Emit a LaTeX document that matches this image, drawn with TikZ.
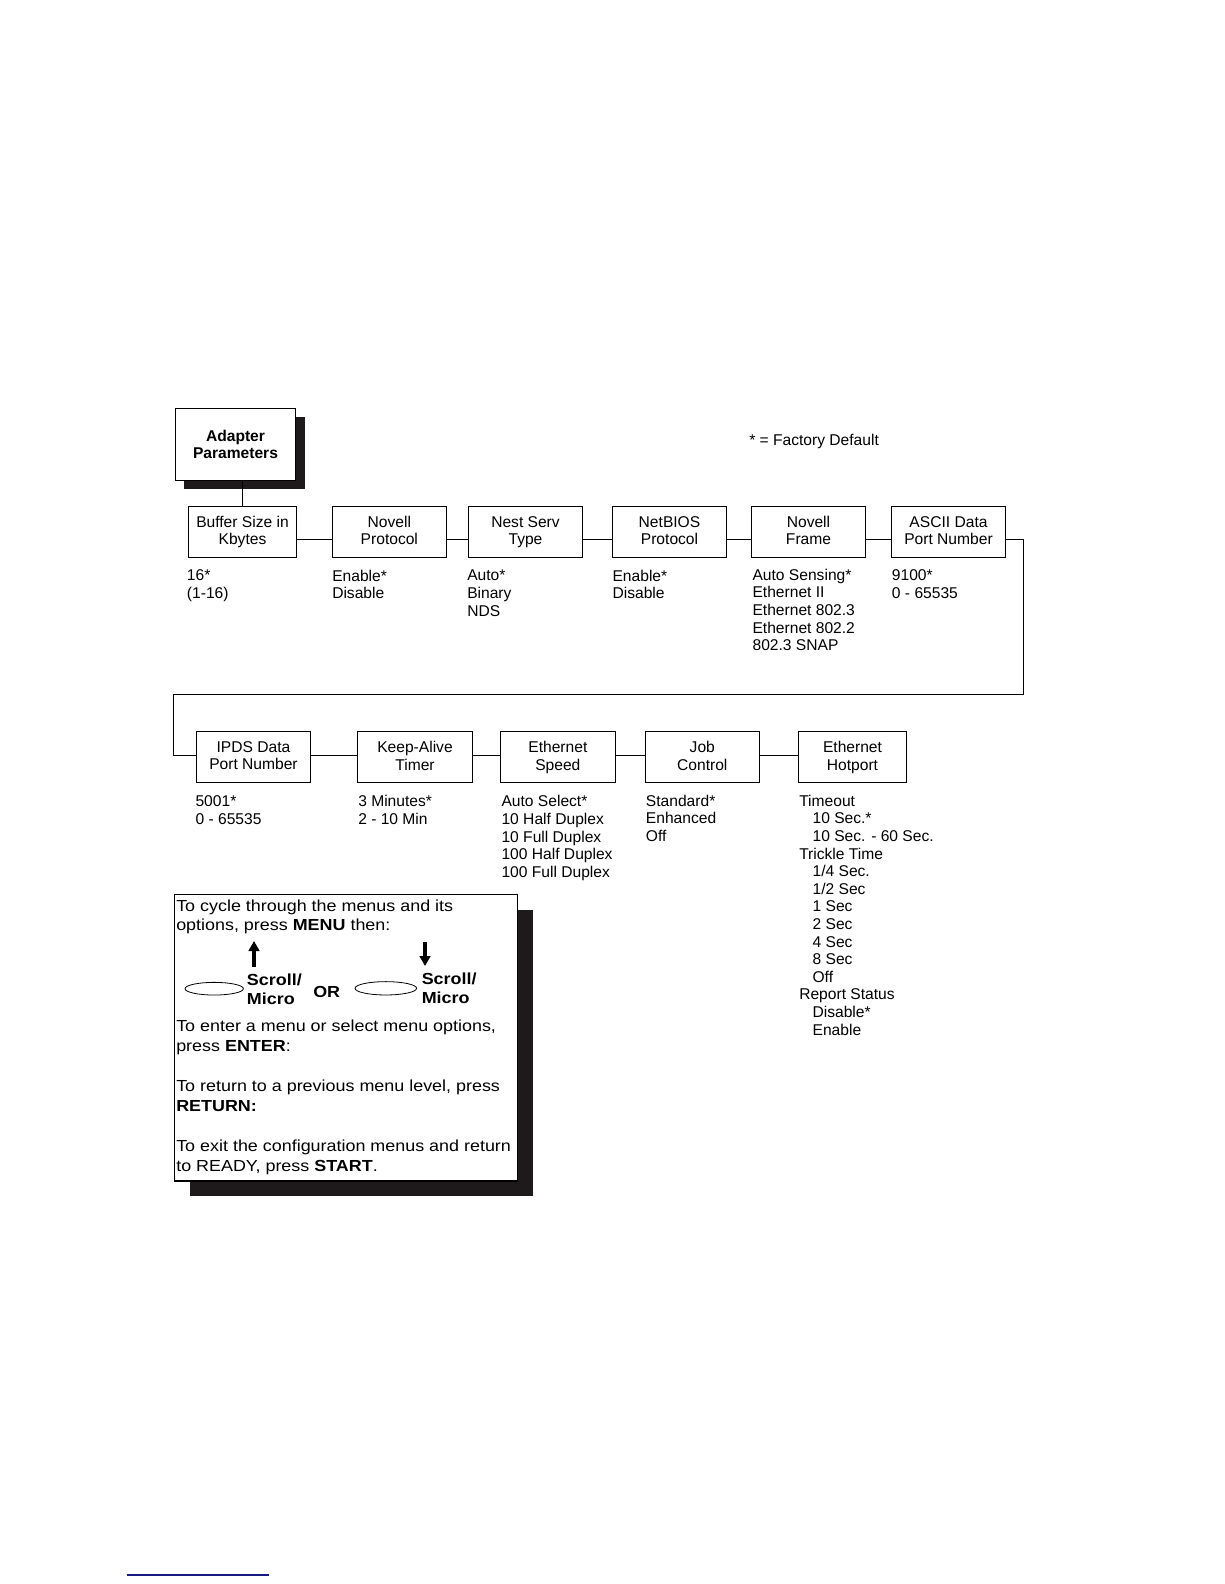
\documentclass[tikz,border=0pt]{standalone}
\usepackage{fontspec}
\setmainfont{Liberation Sans}
\newfontfamily\infofont[FakeStretch=1.12]{Liberation Sans}
\usetikzlibrary{shadows,shapes.geometric,arrows.meta,calc}
\definecolor{shadowc}{RGB}{30,26,28}
\definecolor{navyline}{RGB}{25,25,130}
\newcommand\optfont{\fontsize{11.7}{13.2}\selectfont}
\newcommand\boxfont{\fontsize{11.7}{13.05}\selectfont}
\newcommand\infotext{\infofont\fontsize{12}{15}\selectfont}
\newcommand\infotextA{\infofont\fontsize{12}{14}\selectfont}
\newcommand\infobold{\infofont\bfseries\fontsize{12}{14.5}\selectfont}
\newcommand\lbl[2]{#1\\#2\vphantom{y}}
\begin{document}
\begin{tikzpicture}[x=0.75pt,y=-0.75pt,
  box/.style={draw, line width=0.8pt, fill=white, inner sep=0pt, align=center,
    font=\boxfont, minimum height=38.4pt, minimum width=85.8pt},
  narrow/.style={minimum width=81.3pt},
  opt/.style={anchor=north west, inner sep=0pt, align=left, font=\optfont},
  conn/.style={line width=0.8pt},
  info/.style={anchor=north west, inner sep=0pt, align=left, font=\infotext},
  bigarrow/.style={line width=2.3pt, -{Triangle[width=8pt,length=7.5pt]}},
  oval/.style={ellipse, draw, line width=0.6pt, inner sep=0pt}]
\useasboundingbox (0,0) rectangle (1224,1584);
\fill[white] (0,0) rectangle (1224,1584);

% title box
\node[box, font=\boxfont\bfseries, minimum width=90.3pt, minimum height=54pt,
  general shadow={fill=shadowc, shadow xshift=6.75pt, shadow yshift=-6.75pt}]
  (ad) at (235.5,444.3) {Adapter\\Parameters};
\node[anchor=base west, inner sep=0pt, font=\optfont] (fd) at (749,445.7) {* = Factory Default};

% row 1
\node[box, narrow] (buf) at (242.5,531.9) {\lbl{Buffer Size in}{Kbytes}};
\node[box] (nov) at (389.35,531.9) {\lbl{Novell}{Protocol}};
\node[box] (nest) at (525.5,531.9) {\lbl{Nest Serv}{Type}};
\node[box] (netb) at (669.5,531.9) {\lbl{NetBIOS}{Protocol}};
\node[box] (frame) at (808.5,531.9) {\lbl{Novell}{Frame}};
\node[box] (ascii) at (948.5,531.9) {\lbl{ASCII Data}{Port Number}};

% row 2
\node[box] (ipds) at (253.5,757.3) {\lbl{IPDS Data}{Port Number}};
\node[box] (keep) at (415,757.3) {\lbl{Keep-Alive}{Timer}};
\node[box] (speed) at (557.85,757.3) {\lbl{Ethernet}{Speed}};
\node[box] (job) at (702.3,757.3) {\lbl{Job}{Control}};
\node[box, narrow] (hot) at (852.5,757.3) {\lbl{Ethernet}{Hotport}};

% connectors
\draw[conn] (buf.north) -- (buf.north |- ad.south);
\draw[conn] ([yshift=-5.7pt]buf.east) -- ([yshift=-5.7pt]nov.west);
\draw[conn] ([yshift=-5.7pt]nov.east) -- ([yshift=-5.7pt]nest.west);
\draw[conn] ([yshift=-5.7pt]nest.east) -- ([yshift=-5.7pt]netb.west);
\draw[conn] ([yshift=-5.7pt]netb.east) -- ([yshift=-5.7pt]frame.west);
\draw[conn] ([yshift=-5.7pt]frame.east) -- ([yshift=-5.7pt]ascii.west);
\coordinate (r1) at (1023.5,694.5);
\coordinate (l1) at (173.3,694.5);
\draw[conn] ([yshift=-5.7pt]ascii.east) -| (r1) -- (l1) |- ([yshift=1.7pt]ipds.west);
\draw[conn] ([yshift=1.7pt]ipds.east) -- ([yshift=1.7pt]keep.west);
\draw[conn] ([yshift=1.7pt]keep.east) -- ([yshift=1.7pt]speed.west);
\draw[conn] ([yshift=1.7pt]speed.east) -- ([yshift=1.7pt]job.west);
\draw[conn] ([yshift=1.7pt]job.east) -- ([yshift=1.7pt]hot.west);

% options row 1
\node[opt] (obuf) at (186.7,569.8) {16*\\(1-16)};
\node[opt] (onov) at (332,569.8) {Enable*\\Disable};
\node[opt] (onest) at (467,569.8) {Auto*\\Binary\\NDS};
\node[opt] (onetb) at (612.3,569.8) {Enable*\\Disable};
\node[opt] (oframe) at (752.3,568.8) {Auto Sensing*\\Ethernet II\\Ethernet 802.3\\Ethernet 802.2\\802.3 SNAP};
\node[opt] (oascii) at (891.7,569.8) {9100*\\0 - 65535};

% options row 2
\node[opt] (oipds) at (195.3,795.3) {5001*\\0 - 65535};
\node[opt] (okeep) at (358,795.3) {3 Minutes*\\2 - 10 Min};
\node[opt] (ospeed) at (501.3,795.3) {Auto Select*\\10 Half Duplex\\10 Full Duplex\\100 Half Duplex\\100 Full Duplex};
\node[opt] (ojob) at (645.7,794.8) {Standard*\\Enhanced\\Off};
\node[opt] (ohot) at (799,794.8) {Timeout\\\hspace*{10pt}10 Sec.*\\\hspace*{10pt}10 Sec. - 60 Sec.\\Trickle Time\\\hspace*{10pt}1/4 Sec.\\\hspace*{10pt}1/2 Sec\\\hspace*{10pt}1 Sec\\\hspace*{10pt}2 Sec\\\hspace*{10pt}4 Sec\\\hspace*{10pt}8 Sec\\\hspace*{10pt}Off\\Report Status\\\hspace*{10pt}Disable*\\\hspace*{10pt}Enable};

% info box
\node[draw, line width=0.8pt, fill=white, minimum width=257.25pt, minimum height=214.7pt,
  inner sep=0pt, general shadow={fill=shadowc, shadow xshift=11.25pt, shadow yshift=-11.25pt}]
  (info) at (346.2,1037.85) {};
\node[info, font=\infotextA] (p1) at (176,900) {To cycle through the menus and its\\options, press \textbf{MENU} then:};
\coordinate (ua1) at (254,967);
\coordinate (ua2) at (254,941);
\draw[bigarrow] (ua1) -- (ua2);
\coordinate (da1) at (425,942.3);
\coordinate (da2) at (425,966);
\draw[bigarrow] (da1) -- (da2);
\node[oval, minimum width=43.8pt, minimum height=9.5pt] (ell1) at (214.2,988.7) {};
\node[oval, minimum width=46.2pt, minimum height=10pt] (ell2) at (385.8,988.3) {};
\node[info, font=\infobold] (sc1) at (246.7,973.5) {Scroll/\\Micro};
\node[anchor=base west, inner sep=0pt, font=\infobold] (or) at (313,997) {OR};
\node[info, font=\infobold] (sc2) at (421.5,972.7) {Scroll/\\Micro};
\node[info] (p2) at (176,1019.2) {To enter a menu or select menu options,\\press \textbf{ENTER}:};
\node[info] (p3) at (176,1079.2) {To return to a previous menu level, press\\\textbf{RETURN:}};
\node[info] (p4) at (176,1139.6) {To exit the configuration menus and return\\to READY, press \textbf{START}.};

% footer rule
\coordinate (f1) at (126.7,1575);
\coordinate (f2) at (269,1575);
\draw[navyline, line width=1pt] (f1) -- (f2);
\end{tikzpicture}
\end{document}
